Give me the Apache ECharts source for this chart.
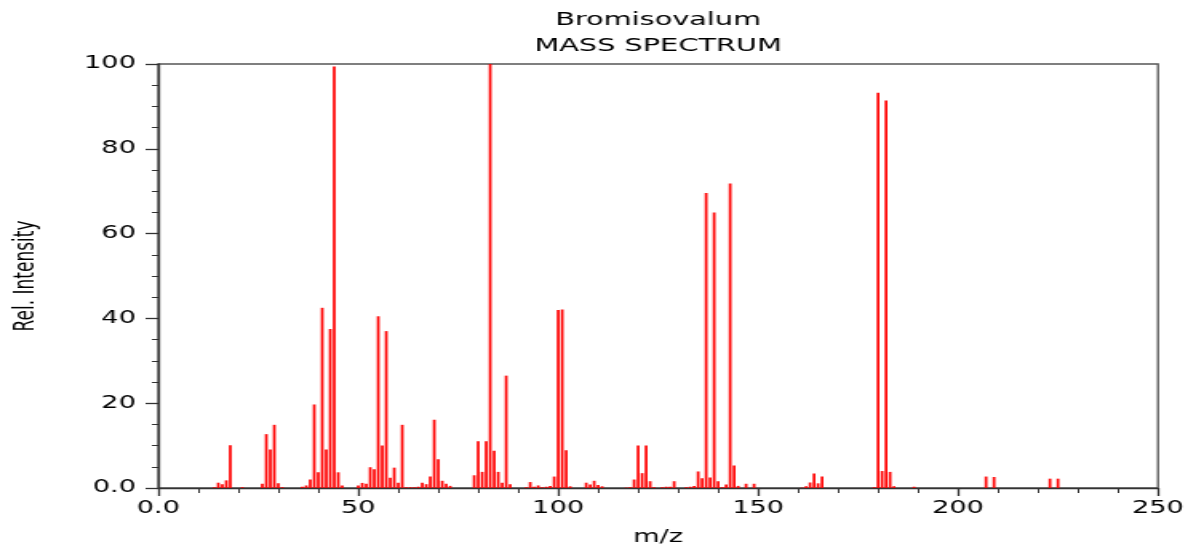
<!DOCTYPE html>
<html><head><meta charset="utf-8">
<script src="https://cdn.jsdelivr.net/npm/echarts@6/dist/echarts.min.js"></script>
<style>
html,body{margin:0;padding:0;background:#fff;overflow:hidden;}
#wrap{width:1188px;height:545px;overflow:hidden;position:relative;}
#chart{width:743px;height:545px;transform:scaleX(1.598923);transform-origin:0 0;}
</style></head><body><div id="wrap"><div id="chart"></div></div>
<script>
// m/z positions and relative intensities
const mzValues = [14,15,16,17,18,21,26,27,28,29,30,31,36,37,38,39,40,41,42,43,44,45,46,
  50,51,52,53,54,55,56,57,58,59,60,61,62,63,64,65,66,67,68,69,70,71,72,73,
  79,80,81,82,83,84,85,86,87,88,92,93,94,95,96,97,98,99,100,101,102,103,
  107,108,109,110,111,117,118,119,120,121,122,123,124,126,127,128,129,
  132,133,134,135,136,137,138,139,140,141,142,143,144,145,147,149,
  161,162,163,164,165,166,179,180,181,182,183,184,189,207,209,223,225];
const intensities = [0.2,1.25,0.9,1.8,10.1,0.2,1.0,12.7,9.1,14.9,1.1,0.2,0.3,0.6,2.0,19.7,3.7,42.5,9.1,37.5,99.4,3.7,0.6,
  0.6,1.2,1.0,4.9,4.4,40.5,10.0,37.0,2.4,4.8,1.25,14.9,0.2,0.2,0.2,0.3,1.25,0.9,2.7,16.1,6.8,1.7,1.0,0.5,
  3.0,11.0,3.8,11.0,100,8.8,3.8,1.25,26.5,0.9,0.2,1.4,0.3,0.6,0.2,0.3,0.5,2.7,42.0,42.1,8.9,0.4,
  1.25,0.8,1.7,0.7,0.4,0.1,0.2,2.0,10.0,3.5,10.0,1.6,0.2,0.2,0.3,0.3,1.6,
  0.2,0.3,0.5,3.9,2.3,69.6,2.5,65.0,1.6,0.2,0.8,71.8,5.3,0.5,1.0,1.0,
  0.1,0.4,1.3,3.4,1.1,2.7,0.2,93.2,4.0,91.4,3.8,0.4,0.3,2.7,2.6,2.2,2.2];
const xTickValues = [0,50,100,150,200,250];
const xTickLabels = ['0.0','50','100','150','200','250'];
const yTickValues = [0,20,40,60,80,100];
const yTickLabels = ['0.0','20','40','60','80','100'];
const titleLines = ['Bromisovalum','MASS SPECTRUM'];
const xName = 'm/z';
const yName = 'Rel. Intensity';

const FONT = 'DejaVu Sans';
const W = 743;
const gridLeft = 99, gridRight = 18.8, gridTop = 64, gridBottom = 57;
const plotCenter = (gridLeft + (W - gridRight)) / 2;
const axisColor = '#333';

const chart = echarts.init(document.getElementById('chart'), null, {renderer:'canvas'});
chart.setOption({
  animation:false,
  backgroundColor:'#fff',
  graphic:[
    {type:'text', x:plotCenter, y:20, style:{text:titleLines[0], align:'center', verticalAlign:'middle', font:'18px "DejaVu Sans"', fill:'#000'}},
    {type:'text', x:plotCenter, y:46, style:{text:titleLines[1], align:'center', verticalAlign:'middle', font:'18px "DejaVu Sans"', fill:'#000'}}
  ],
  grid:{left:gridLeft, right:gridRight, top:gridTop, bottom:gridBottom, show:true, borderColor:'#555', borderWidth:1.3, backgroundColor:'transparent', containLabel:false, outerBoundsMode:'none'},
  xAxis:{
    type:'value', min:0, max:250, interval:50,
    name:xName, nameLocation:'middle', nameGap:41,
    nameTextStyle:{fontFamily:FONT, fontSize:17, color:'#000'},
    axisLine:{show:true, onZero:false, lineStyle:{color:axisColor, width:1.3}},
    axisTick:{show:true, length:8, lineStyle:{color:axisColor, width:1.3}},
    minorTick:{show:true, splitNumber:5, length:5, lineStyle:{color:axisColor, width:1}},
    splitLine:{show:false},
    axisLabel:{fontFamily:FONT, fontSize:17, color:'#000', margin:12,
      formatter:v => { const i = xTickValues.indexOf(v); return i >= 0 ? xTickLabels[i] : ''; }}
  },
  yAxis:{
    type:'value', min:0, max:100, interval:20,
    name:yName, nameLocation:'middle', nameGap:74, nameRotate:90,
    nameTextStyle:{fontFamily:FONT, fontSize:17, color:'#000'},
    axisLine:{show:true, lineStyle:{color:axisColor, width:1.3}},
    axisTick:{show:true, length:8, lineStyle:{color:axisColor, width:1.3}},
    minorTick:{show:true, splitNumber:4, length:4, lineStyle:{color:axisColor, width:1}},
    splitLine:{show:false},
    axisLabel:{fontFamily:FONT, fontSize:17, color:'#000', margin:14,
      formatter:v => { const i = yTickValues.indexOf(v); return i >= 0 ? yTickLabels[i] : ''; }}
  },
  series:[{
    type:'bar', barWidth:1.7, silent:true,
    itemStyle:{color:'#ff0000'},
    data: mzValues.map((m,i) => [m, intensities[i]])
  }]
});
</script>
</body></html>
